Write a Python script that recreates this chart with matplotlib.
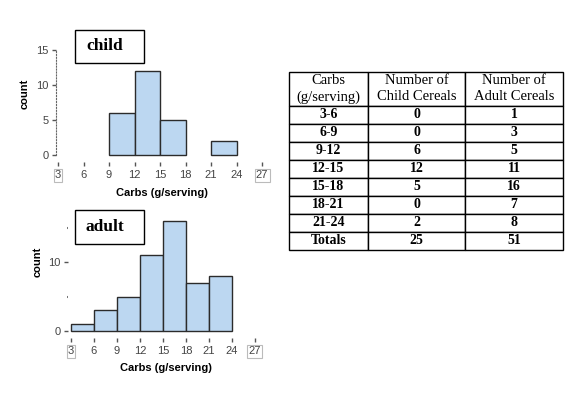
import numpy as np
import matplotlib.pyplot as plt
from matplotlib.patches import Rectangle

# Data
bin_labels = ["3-6", "6-9", "9-12", "12-15", "15-18", "18-21", "21-24"]
bin_left = [3, 6, 9, 12, 15, 18, 21]
child_counts = [0, 0, 6, 12, 5, 0, 2]
adult_counts = [1, 3, 5, 11, 16, 7, 8]
x_ticks = [3, 6, 9, 12, 15, 18, 21, 24, 27]
header = ["Carbs\n(g/serving)", "Number of\nChild Cereals", "Number of\nAdult Cereals"]

W, H = 576, 396
BAR_COLOR = "#bcd7f1"
EDGE = "#2b2b2b"
SANS = "Liberation Sans"
SERIF = "Liberation Serif"


def px_axes(fig, left, top, right, bottom):
    return fig.add_axes([left / W, 1 - bottom / H, (right - left) / W, (bottom - top) / H])


def draw_hist(ax, counts, xlim, ylim):
    lefts = [b for b, c in zip(bin_left, counts) if c > 0]
    heights = [c for c in counts if c > 0]
    ax.bar(lefts, heights, width=3, align="edge", color=BAR_COLOR,
           edgecolor=EDGE, linewidth=1.0, zorder=3)
    ax.set_xlim(*xlim)
    ax.set_ylim(*ylim)
    for s in ["top", "right", "bottom"]:
        ax.spines[s].set_visible(False)
    ax.set_xticks(x_ticks)
    ax.set_xticklabels([str(t) for t in x_ticks], fontsize=8, family=SANS, color="#444")
    ax.tick_params(axis="x", length=3, width=1.0, color="#555", pad=3)
    ax.tick_params(axis="y", length=3, width=1.0, color="#555", pad=2.5,
                   labelsize=8, labelcolor="#444")
    for lab in ax.get_yticklabels():
        lab.set_family(SANS)
    for lab in ax.get_xticklabels():
        if lab.get_text() in ("3", "27"):
            lab.set_bbox(dict(facecolor="none", edgecolor="#bbbbbb", pad=1.0, lw=0.8))
    ax.set_xlabel("Carbs (g/serving)", fontsize=8, fontweight="bold", family=SANS)
    ax.set_ylabel("count", fontsize=8, fontweight="bold", family=SANS)
    ax.patch.set_alpha(0)


def title_box(fig, text, left, top, right, bottom):
    fig.add_artist(Rectangle((left / W, 1 - bottom / H), (right - left) / W, (bottom - top) / H,
                             transform=fig.transFigure, facecolor="white",
                             edgecolor="black", linewidth=1.0))
    fig.text((left + 11) / W, 1 - (top + bottom) / 2 / H, text, ha="left", va="center",
             fontsize=12.5, fontweight="bold", family=SERIF)


fig = plt.figure(figsize=(W / 100, H / 100), dpi=100)

# child histogram
ax1 = px_axes(fig, 56.3, 39.5, 266.3, 162)
draw_hist(ax1, child_counts, (2.8, 27.5), (-1, 16.5))
ax1.set_yticks([0, 5, 10, 15])
ax1.spines["left"].set_bounds(0, 15)
ax1.spines["left"].set_linestyle(":")
ax1.spines["left"].set_color("#666")
ax1.xaxis.set_label_coords(0.503, -0.21)
ax1.yaxis.set_label_coords(-0.125, 0.56)
title_box(fig, "child", 75, 30, 144, 63)

# adult histogram
ax2 = px_axes(fig, 67.9, 210.3, 258.8, 337.9)
draw_hist(ax2, adult_counts, (2.6, 27.5), (-1, 17.5))
ax2.set_yticks([0, 10])
ax2.set_yticks([5, 15], minor=True)
ax2.tick_params(axis="y", which="minor", length=1, width=1.5, color="#777")
ax2.spines["left"].set_visible(False)
ax2.xaxis.set_label_coords(0.514, -0.2)
ax2.yaxis.set_label_coords(-0.13, 0.595)
title_box(fig, "adult", 75, 210, 144, 244)

# table
tax = px_axes(fig, 289, 72, 563, 250)
tax.axis("off")
cell_text = [[lab, str(c), str(a)] for lab, c, a in zip(bin_labels, child_counts, adult_counts)]
cell_text.append(["Totals", str(sum(child_counts)), str(sum(adult_counts))])
tbl = tax.table(cellText=cell_text, colLabels=header, cellLoc="center",
                bbox=[0, 0, 1, 1])
tbl.auto_set_font_size(False)
col_w = [79, 97, 98]
for (r, c), cell in tbl.get_celld().items():
    cell.set_width(col_w[c])
    cell.set_height(34 if r == 0 else 18)
    cell.set_linewidth(1.0)
    cell.set_edgecolor("black")
    t = cell.get_text()
    t.set_family(SERIF)
    if r == 0:
        t.set_fontsize(10.5)
        t.set_linespacing(1.3)
    else:
        t.set_fontsize(10)
        t.set_fontweight("bold")

fig.savefig("out.png", dpi=100)
